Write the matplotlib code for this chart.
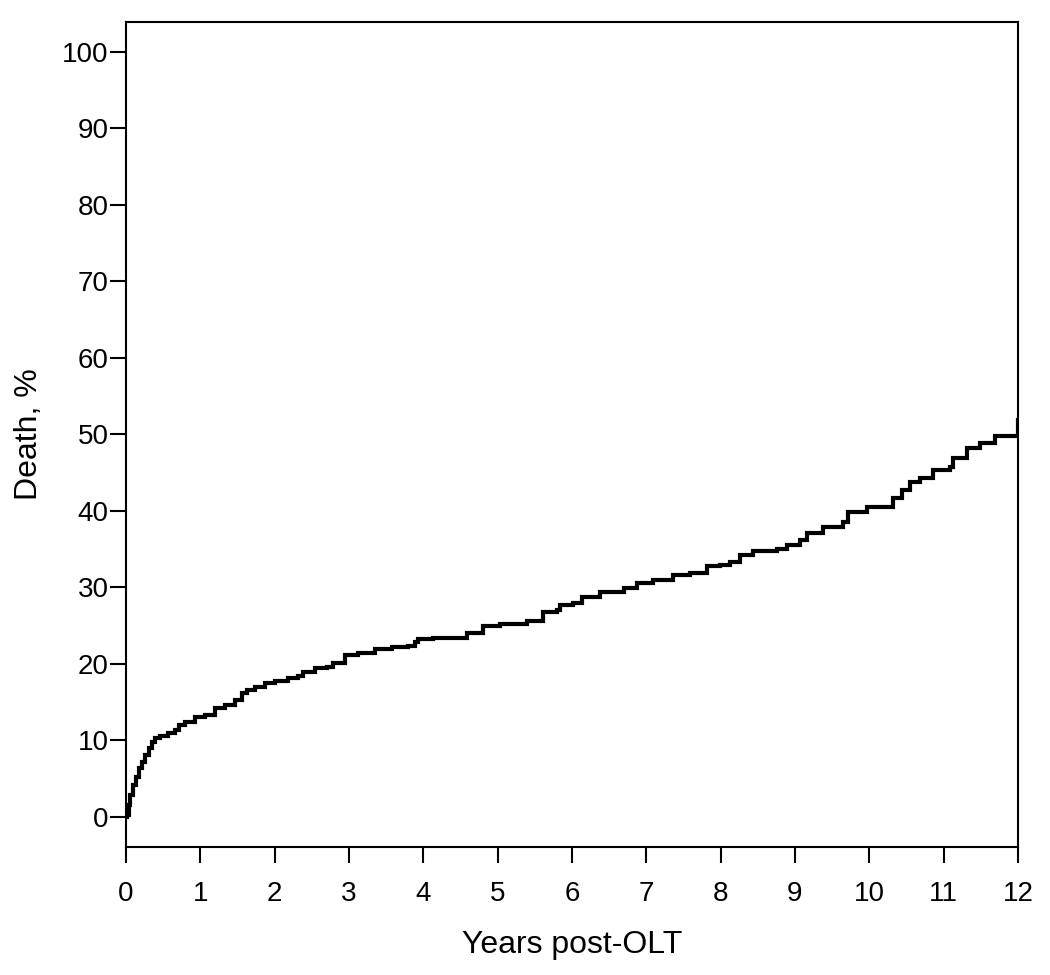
import matplotlib
matplotlib.use("Agg")
import matplotlib.pyplot as plt

plt.rcParams['font.family'] = ['Liberation Sans', 'DejaVu Sans']

# Cumulative death (%)
years = [0, 0.01, 0.04, 0.06, 0.09, 0.13, 0.17, 0.22, 0.26, 0.31, 0.35, 0.39,
         0.46, 0.57, 0.66, 0.71, 0.79, 0.93, 1.06, 1.20, 1.33, 1.47, 1.56, 1.63,
         1.74, 1.87, 2.00, 2.18, 2.31, 2.38, 2.54, 2.70, 2.78, 2.95, 3.12, 3.35,
         3.58, 3.79, 3.89, 3.93, 4.13, 4.59, 4.80,
         5.03, 5.39, 5.61, 5.80, 5.84, 6.01, 6.13, 6.38, 6.70, 6.87, 7.09, 7.36,
         7.59, 7.82, 7.99, 8.13, 8.26, 8.44, 8.76, 8.89, 9.07, 9.16, 9.38, 9.65,
         9.71, 9.97, 10.32, 10.44, 10.55, 10.68, 10.86, 11.09, 11.13, 11.31,
         11.49, 11.69, 12.00]
death_pct = [0, 0.3, 1.6, 2.9, 4.2, 5.2, 6.4, 7.2, 8.1, 9.0, 9.8, 10.3,
             10.6, 11.0, 11.4, 12.0, 12.4, 13.1, 13.3, 14.2, 14.6, 15.3, 16.2, 16.6,
             17.0, 17.5, 17.8, 18.2, 18.4, 19.0, 19.5, 19.6, 20.1, 21.2, 21.4, 22.0,
             22.2, 22.4, 22.9, 23.2, 23.4, 24.1, 24.9,
             25.2, 25.6, 26.8, 27.1, 27.7, 28.0, 28.8, 29.4, 29.9, 30.6, 31.0, 31.6,
             31.9, 32.8, 32.9, 33.3, 34.2, 34.8, 35.0, 35.6, 36.2, 37.1, 37.9, 38.6,
             39.9, 40.5, 41.7, 42.7, 43.8, 44.3, 45.4, 45.8, 46.9, 48.2,
             48.9, 49.8, 51.9]

x_ticks = list(range(0, 13))
y_ticks = list(range(0, 101, 10))

fig = plt.figure(figsize=(10.5, 9.75), dpi=100)
ax = fig.add_axes([126/1050, 1 - 847/975, (1018 - 126)/1050, (847 - 22)/975])

ax.plot(years, death_pct, drawstyle='steps-post', color='black', lw=3.0,
        solid_joinstyle='miter')

ax.set_xlim(0, 12)
ax.set_ylim(-3.92, 103.9)
ax.set_xticks(x_ticks)
ax.set_yticks(y_ticks)
ax.tick_params(axis='both', direction='out', length=11.5, width=1.5,
               labelsize=20, color='black')
ax.tick_params(axis='x', pad=13)
ax.tick_params(axis='y', pad=1)
for s in ax.spines.values():
    s.set_linewidth(1.5)

ax.set_xlabel('Years post-OLT', fontsize=23, va='center')
ax.xaxis.set_label_coords(0.5, (847 - 945) / 825)
ax.set_ylabel('Death, %', fontsize=23, va='center')
ax.yaxis.set_label_coords((29 - 126) / 892, 0.5)

fig.savefig('out.png', dpi=100, facecolor='white')
